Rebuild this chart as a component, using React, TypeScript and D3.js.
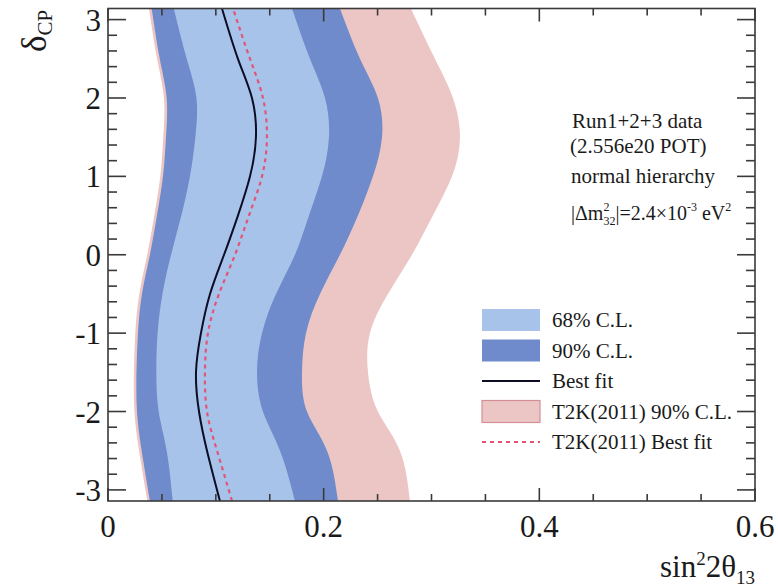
import React, { useEffect, useRef } from "react";
import * as d3 from "d3";

// delta_CP grid (bottom to top)
const deltaCP = [-3.1416, -2.5, -2, -1.5, -1, -0.5, 0, 0.5, 1, 1.5, 2, 2.5, 3.1416];

// T2K(2011) 90% C.L. band edges
const t2kLeft = [0.0365, 0.0288, 0.0245, 0.024, 0.0253, 0.029, 0.0364, 0.0429, 0.0485, 0.0513, 0.0519, 0.0455, 0.038];
const t2kRight = [0.28, 0.2707, 0.2503, 0.2411, 0.2429, 0.2596, 0.2819, 0.3013, 0.319, 0.3264, 0.3199, 0.3032, 0.2809];
const t2kBest = [0.115, 0.1011, 0.0918, 0.0899, 0.0927, 0.1029, 0.1178, 0.1307, 0.1428, 0.1474, 0.1437, 0.1317, 0.1159];

// 90% C.L. band edges
const cl90Left = [0.0389, 0.0312, 0.0269, 0.0264, 0.0278, 0.0315, 0.0389, 0.0454, 0.051, 0.0538, 0.0544, 0.048, 0.0405];
const cl90Right = [0.2133, 0.2031, 0.1845, 0.1799, 0.1836, 0.1966, 0.2151, 0.2318, 0.2457, 0.2541, 0.2503, 0.2337, 0.2151];

// 68% C.L. band edges
const cl68Left = [0.06, 0.0544, 0.047, 0.0448, 0.046, 0.0505, 0.0585, 0.068, 0.076, 0.081, 0.082, 0.073, 0.061];
const cl68Right = [0.1734, 0.1595, 0.1437, 0.1382, 0.1428, 0.1558, 0.1734, 0.1864, 0.1984, 0.2049, 0.2012, 0.1873, 0.1706];

// best fit
const bestFit = [0.1038, 0.0918, 0.0844, 0.0816, 0.0862, 0.0946, 0.1076, 0.1205, 0.1317, 0.1372, 0.1335, 0.1205, 0.1057];

const xTicks = [0, 0.2, 0.4, 0.6];
const yTicks = [-3, -2, -1, 0, 1, 2, 3];

const LIGHT = "#a8c3ea";
const DARK = "#6f8bcb";
const PINK = "#ecc6c4";
const FONT = "'Liberation Serif', 'Times New Roman', serif";

const App = () => {
  const ref = useRef<SVGSVGElement>(null);

  useEffect(() => {
    const svg = d3.select(ref.current);
    svg.selectAll("*").remove();

    const left = 108, right = 755, top = 8.5, bottom = 501;
    const x = d3.scaleLinear().domain([0, 0.6]).range([left, right]);
    const y = d3.scaleLinear().domain([-Math.PI, Math.PI]).range([bottom, top]);

    svg.append("clipPath").attr("id", "plot-clip")
      .append("rect").attr("x", left).attr("y", top)
      .attr("width", right - left).attr("height", bottom - top);

    const band = (lo: number[], hi: number[]) =>
      d3.area<number>()
        .y((d) => y(d))
        .x0((d, i) => x(lo[i]))
        .x1((d, i) => x(hi[i]))
        .curve(d3.curveNatural)(deltaCP);

    const line = (vals: number[]) =>
      d3.line<number>()
        .y((d) => y(d))
        .x((d, i) => x(vals[i]))
        .curve(d3.curveNatural)(deltaCP);

    const g = svg.append("g").attr("clip-path", "url(#plot-clip)");
    g.append("path").attr("d", band(t2kLeft, t2kRight)).attr("fill", PINK);
    g.append("path").attr("d", band(cl90Left, cl90Right)).attr("fill", DARK);
    g.append("path").attr("d", band(cl68Left, cl68Right)).attr("fill", LIGHT);
    g.append("path").attr("d", line(t2kBest)).attr("fill", "none")
      .attr("stroke", "#e25577").attr("stroke-width", 2.2).attr("stroke-dasharray", "4,4");
    g.append("path").attr("d", line(bestFit)).attr("fill", "none")
      .attr("stroke", "#0c0c24").attr("stroke-width", 2);

    // frame and ticks
    const axisColor = "#3a3a3a";
    const ax = svg.append("g").attr("stroke", axisColor).attr("stroke-width", 1.6);
    ax.append("rect").attr("x", left).attr("y", top)
      .attr("width", right - left).attr("height", bottom - top).attr("fill", "none");

    d3.range(0, 0.6001, 0.05).forEach((v) => {
      const major = Math.abs(Math.round(v / 0.2) * 0.2 - v) < 1e-6;
      const len = major ? 13 : 7;
      ax.append("line").attr("x1", x(v)).attr("x2", x(v)).attr("y1", bottom).attr("y2", bottom - len);
      ax.append("line").attr("x1", x(v)).attr("x2", x(v)).attr("y1", top).attr("y2", top + len);
    });
    d3.range(-3, 3.001, 0.2).forEach((v) => {
      const major = Math.abs(Math.round(v) - v) < 1e-6;
      const len = major ? 18 : 9;
      ax.append("line").attr("x1", left).attr("x2", left + len).attr("y1", y(v)).attr("y2", y(v));
      ax.append("line").attr("x1", right).attr("x2", right - len).attr("y1", y(v)).attr("y2", y(v));
    });

    const txt = svg.append("g").attr("font-family", FONT).attr("fill", "#1a1a1a");
    xTicks.forEach((v) => {
      txt.append("text").attr("x", x(v)).attr("y", 537).attr("text-anchor", "middle")
        .attr("font-size", 31).text(String(v));
    });
    yTicks.forEach((v) => {
      txt.append("text").attr("x", 101).attr("y", y(v) + 11).attr("text-anchor", "end")
        .attr("font-size", 31).text(String(v));
    });

    // axis titles
    const xt = txt.append("text").attr("x", 755).attr("y", 577).attr("text-anchor", "end").attr("font-size", 31);
    xt.append("tspan").text("sin");
    xt.append("tspan").attr("font-size", 19).attr("dy", -12).text("2");
    xt.append("tspan").attr("dy", 12).text("2θ");
    xt.append("tspan").attr("font-size", 19).attr("dy", 7).text("13");

    const yt = txt.append("text").attr("transform", "translate(46,52) rotate(-90)").attr("font-size", 35);
    yt.append("tspan").text("δ");
    yt.append("tspan").attr("font-size", 21).attr("dy", 6).text("CP");

    // annotations
    const ann = txt.append("g").attr("font-size", 21);
    ann.append("text").attr("x", 572).attr("y", 128).text("Run1+2+3 data");
    ann.append("text").attr("x", 570).attr("y", 153).text("(2.556e20 POT)");
    ann.append("text").attr("x", 571).attr("y", 183).text("normal hierarchy");
    const dm = ann.append("text").attr("x", 571).attr("y", 220).attr("font-size", 20);
    dm.append("tspan").text("|Δm");
    dm.append("tspan").attr("font-size", 12).attr("dy", -9).text("2");
    dm.append("tspan").attr("font-size", 12).attr("dx", -6).attr("dy", 14).text("32");
    dm.append("tspan").attr("dy", -5).text("|=2.4×10");
    dm.append("tspan").attr("font-size", 12).attr("dy", -9).text("-3");
    dm.append("tspan").attr("dy", 9).text(" eV");
    dm.append("tspan").attr("font-size", 12).attr("dy", -9).text("2");

    // legend
    const lg = svg.append("g");
    const lx = 482, lw = 58;
    const rows = [
      { label: "68% C.L.", kind: "box", fill: LIGHT, stroke: "none" },
      { label: "90% C.L.", kind: "box", fill: DARK, stroke: "none" },
      { label: "Best fit", kind: "line", color: "#0c0c24", dash: "none" },
      { label: "T2K(2011) 90% C.L.", kind: "box", fill: PINK, stroke: "#d48f95" },
      { label: "T2K(2011) Best fit", kind: "line", color: "#e25577", dash: "4,4" },
    ];
    rows.forEach((r: any, i) => {
      const cy = 320 + i * 30.5;
      if (r.kind === "box") {
        lg.append("rect").attr("x", lx).attr("y", cy - 11).attr("width", lw).attr("height", 22)
          .attr("fill", r.fill).attr("stroke", r.stroke).attr("stroke-width", 1.2);
      } else {
        lg.append("line").attr("x1", lx).attr("x2", lx + lw).attr("y1", cy).attr("y2", cy)
          .attr("stroke", r.color).attr("stroke-width", 2.2).attr("stroke-dasharray", r.dash);
      }
      lg.append("text").attr("x", 552).attr("y", cy + 7).attr("font-family", FONT)
        .attr("font-size", 21).attr("fill", "#1a1a1a").text(r.label);
    });
  }, []);

  return (
    <svg ref={ref} width={778} height={587}
      style={{ position: "absolute", left: 0, top: 0, background: "#fff" }} />
  );
};

export default App;
